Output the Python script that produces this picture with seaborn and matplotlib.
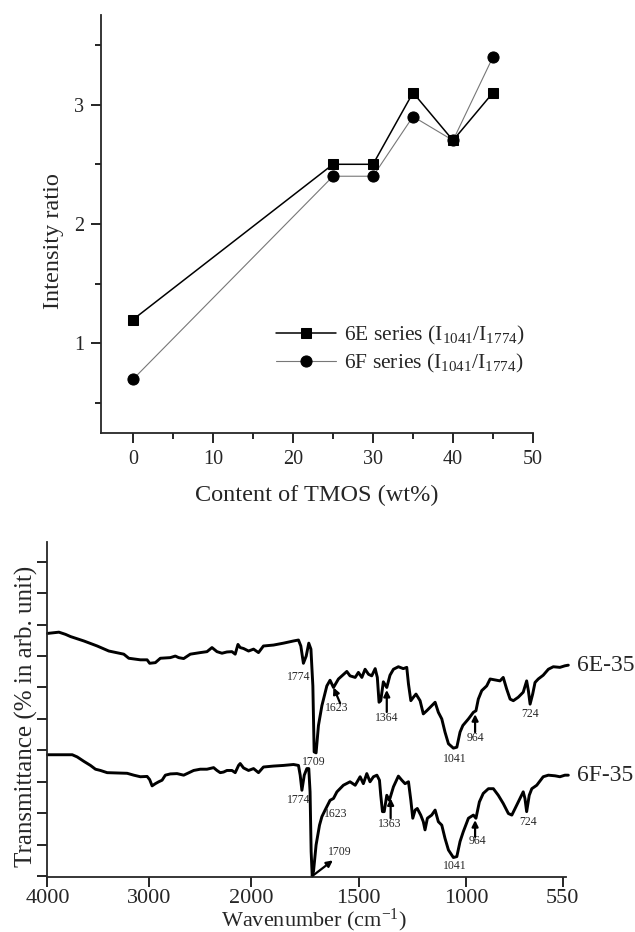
import numpy as np
import matplotlib
matplotlib.use('Agg')
import matplotlib.pyplot as plt
import seaborn as sns

# ---------------- data: top panel ----------------
tmos_wt = [0, 25, 30, 35, 40, 45]
ratio_6E = [1.2, 2.5, 2.5, 3.1, 2.7, 3.1]
ratio_6F = [0.7, 2.4, 2.4, 2.9, 2.7, 3.4]
label_6E = r'6E series (I$_{1041}$/I$_{1774}$)'
label_6F = r'6F series (I$_{1041}$/I$_{1774}$)'

# ---------------- data: FTIR spectra (bottom panel) ----------------
wn_6E = [4000, 3888, 3823, 3774, 3643, 3512, 3398, 3251, 3202, 3088,
         3022, 2997, 2941, 2892, 2794, 2745, 2712, 2663, 2598, 2500,
         2434, 2385, 2336, 2287, 2238, 2189, 2157, 2130, 2108, 2075,
         2026, 1989, 1966, 1943, 1896, 1850, 1803, 1780, 1769, 1757,
         1744, 1732, 1722, 1713, 1707, 1698, 1687, 1671, 1648, 1633,
         1617, 1594, 1555, 1540, 1516, 1501, 1485, 1470, 1454, 1439,
         1423, 1413, 1405, 1397, 1385, 1369, 1354, 1338, 1315, 1292,
         1276, 1268, 1257, 1245, 1233, 1214, 1199, 1183, 1167, 1144,
         1129, 1113, 1098, 1082, 1059, 1043, 1028, 1015, 989, 966,
         954, 943, 927, 904, 888, 865, 842, 827, 811, 795,
         780, 757, 734, 718, 710, 702, 690, 679, 664, 641,
         617, 594, 563, 540, 524]
T_6E = [7.72, 7.76, 7.69, 7.62, 7.48, 7.32, 7.16, 7.06, 6.93, 6.88,
        6.88, 6.77, 6.79, 6.93, 6.95, 7.00, 6.95, 6.92, 7.06, 7.11,
        7.14, 7.27, 7.14, 7.09, 7.13, 7.14, 7.06, 7.37, 7.27, 7.24,
        7.16, 7.22, 7.11, 7.32, 7.35, 7.41, 7.48, 7.51, 7.32, 6.77,
        7.00, 7.41, 7.22, 6.05, 3.95, 3.92, 4.79, 5.42, 6.05, 6.23,
        6.00, 6.27, 6.51, 6.37, 6.32, 6.48, 6.32, 6.58, 6.42, 6.37,
        6.60, 6.32, 5.53, 5.58, 6.18, 6.00, 6.39, 6.58, 6.66, 6.60,
        6.64, 6.11, 5.58, 5.69, 5.79, 5.58, 5.16, 5.26, 5.37, 5.53,
        5.21, 5.00, 4.58, 4.21, 4.07, 4.10, 4.58, 4.79, 5.00, 5.21,
        5.26, 5.63, 5.90, 6.05, 6.27, 6.24, 6.21, 6.32, 5.95, 5.63,
        5.58, 5.69, 5.85, 6.21, 5.90, 5.47, 5.79, 6.16, 6.27, 6.39,
        6.58, 6.66, 6.64, 6.69, 6.71]

wn_6F = [4000, 3872, 3757, 3708, 3643, 3578, 3529, 3480, 3414, 3316,
         3218, 3153, 3088, 3022, 2997, 2973, 2941, 2908, 2875, 2843,
         2794, 2728, 2663, 2630, 2565, 2500, 2434, 2369, 2336, 2304,
         2271, 2238, 2189, 2157, 2124, 2108, 2075, 2026, 1989, 1966,
         1943, 1896, 1850, 1803, 1780, 1772, 1764, 1753, 1741, 1732,
         1726, 1721, 1716, 1710, 1698, 1682, 1671, 1656, 1633, 1617,
         1601, 1571, 1540, 1516, 1493, 1478, 1462, 1447, 1431, 1415,
         1403, 1397, 1389, 1381, 1369, 1357, 1338, 1315, 1299, 1284,
         1268, 1257, 1248, 1237, 1227, 1211, 1199, 1191, 1180, 1160,
         1144, 1129, 1113, 1098, 1082, 1059, 1043, 1028, 1013, 989,
         966, 954, 938, 920, 896, 873, 850, 827, 803, 787,
         764, 734, 726, 718, 706, 694, 671, 641, 617, 586,
         563, 540, 524]
T_6F = [3.86, 3.86, 3.86, 3.79, 3.65, 3.52, 3.40, 3.36, 3.29, 3.28,
        3.27, 3.21, 3.16, 3.17, 3.07, 2.87, 2.94, 3.00, 3.05, 3.21,
        3.25, 3.26, 3.21, 3.26, 3.36, 3.40, 3.40, 3.45, 3.36, 3.29,
        3.31, 3.36, 3.36, 3.29, 3.52, 3.58, 3.44, 3.36, 3.42, 3.29,
        3.47, 3.50, 3.52, 3.55, 3.52, 3.21, 2.73, 3.21, 3.42, 3.42,
        2.68, 0.78, 0.00, 0.15, 0.99, 1.62, 1.89, 2.10, 2.41, 2.47,
        2.68, 2.89, 3.00, 2.89, 3.16, 2.94, 3.26, 3.00, 3.16, 3.21,
        3.05, 2.57, 2.05, 2.05, 2.57, 2.41, 2.84, 3.18, 3.05, 2.94,
        3.00, 2.41, 1.84, 2.10, 2.15, 1.94, 1.73, 1.47, 1.84, 1.94,
        2.10, 1.73, 1.62, 1.20, 0.83, 0.59, 0.62, 1.10, 1.41, 1.84,
        1.94, 1.84, 2.36, 2.63, 2.78, 2.78, 2.57, 2.31, 1.99, 1.94,
        2.26, 2.68, 2.47, 2.05, 2.57, 2.78, 2.89, 3.16, 3.21, 3.19,
        3.16, 3.21, 3.21]

wn_ticks = [4000, 3000, 2000, 1500, 1000, 550]
series_names = ['6E-35', '6F-35']

# ---------------- style ----------------
sns.set_style('ticks')
plt.rcParams['font.family'] = ['Liberation Serif', 'DejaVu Serif']
plt.rcParams['mathtext.fontset'] = 'custom'
plt.rcParams['mathtext.rm'] = 'Liberation Serif'
plt.rcParams['mathtext.it'] = 'Liberation Serif:italic'
plt.rcParams['mathtext.default'] = 'regular'
plt.rcParams['axes.linewidth'] = 1.3

fig = plt.figure(figsize=(6.35, 9.32), dpi=100)

# ================= top panel =================
ax1 = fig.add_axes([0.1591, 0.5354, 0.6803, 0.4485])
sns.lineplot(x=tmos_wt, y=ratio_6E, ax=ax1, color='black', linewidth=1.1,
             marker='s', markersize=7, markeredgecolor='black',
             label=label_6E, zorder=3, estimator=None)
sns.lineplot(x=tmos_wt, y=ratio_6F, ax=ax1, color='#777777', linewidth=0.8,
             marker='o', markersize=8, markerfacecolor='black',
             markeredgecolor='black', label=label_6F, zorder=2, estimator=None)
ax1.set_xlim(-4, 50)
ax1.set_ylim(0.25, 3.75)
ax1.set_xticks([0, 10, 20, 30, 40, 50])
ax1.set_xticks([5, 15, 25, 35, 45], minor=True)
ax1.set_yticks([1, 2, 3])
ax1.set_yticks([0.5, 1.5, 2.5, 3.5], minor=True)
ax1.tick_params(axis='both', which='major', direction='out', length=7,
                width=1.2, labelsize=14.5, pad=5, color='black')
ax1.tick_params(axis='both', which='minor', direction='out', length=4,
                width=1.2, color='black')
sns.despine(ax=ax1)
ax1.set_xlabel('Content of TMOS (wt%)', fontsize=17.5)
ax1.set_ylabel('Intensity ratio', fontsize=17.5)
ax1.xaxis.set_label_coords(0.5, -0.125)
ax1.yaxis.set_label_coords(-0.085, 0.46)
leg = ax1.legend(loc='upper left', bbox_to_anchor=(0.405, 0.26),
                 frameon=False, fontsize=15.5, handlelength=2.8,
                 handletextpad=0.35, labelspacing=0.22, borderpad=0,
                 borderaxespad=0)

# ================= bottom panel =================
ax2 = fig.add_axes([0.0748, 0.0590, 0.8165, 0.3595])
r = 0.474


def fwd(w):
    w = np.asarray(w, dtype=float)
    return np.where(w > 2000, 2000 + r * (w - 2000), w)


def inv(t):
    t = np.asarray(t, dtype=float)
    return np.where(t > 2000, 2000 + (t - 2000) / r, t)


ax2.set_xscale('function', functions=(fwd, inv))
sns.lineplot(x=wn_6E, y=T_6E, ax=ax2, sort=False, estimator=None,
             color='black', linewidth=2.1, clip_on=False, legend=False)
sns.lineplot(x=wn_6F, y=T_6F, ax=ax2, sort=False, estimator=None,
             color='black', linewidth=2.1, clip_on=False, legend=False)
ax2.set_xlim(4000, 535)
ax2.set_ylim(-0.03, 10.63)
ax2.set_xticks(wn_ticks)
ax2.set_xticklabels([str(t) for t in wn_ticks])
ax2.set_yticks(range(0, 11))
ax2.set_yticklabels([])
ax2.tick_params(axis='both', which='major', direction='out', length=7,
                width=1.2, labelsize=16, pad=1.5, color='black')
ax2.tick_params(axis='x', which='minor', length=0)
sns.despine(ax=ax2)
ax2.set_xlabel(r'Wavenumber (cm$^{-1}$)', fontsize=16)
ax2.set_ylabel('Transmittance (% in arb. unit)', fontsize=18)
ax2.xaxis.set_label_coords(0.514, -0.088)
ax2.yaxis.set_label_coords(-0.018, 0.48)

# peak labels
small = 8.5
peak_text = [
    ('1774', 1780, 6.34), ('1709', 1710, 3.63), ('1623', 1601, 5.34),
    ('1364', 1369, 5.03), ('1041', 1051, 3.71), ('964', 958, 4.40),
    ('724', 702, 5.16),
    ('1774', 1780, 2.41), ('1623', 1605, 1.99), ('1363', 1354, 1.65),
    ('1709', 1590, 0.76), ('1041', 1051, 0.31), ('964', 947, 1.12),
    ('724', 713, 1.73),
]
for txt, xw, yt in peak_text:
    ax2.text(xw, yt, txt, fontsize=small, ha='center', va='center')

arrows = [
    ((1617, 6.00), (1586, 5.50)),
    ((1369, 5.92), (1369, 5.22)),
    ((958, 5.15), (958, 4.58)),
    ((1351, 2.47), (1351, 1.84)),
    ((958, 1.78), (958, 1.25)),
    ((1620, 0.50), (1712, 0.02)),
]
for head, tail in arrows:
    ax2.annotate('', xy=head, xytext=tail,
                 arrowprops=dict(arrowstyle='-|>', color='black', lw=1.6,
                                 mutation_scale=9, shrinkA=0, shrinkB=0))

ax2.text(484, 6.71, series_names[0], fontsize=17, ha='left', va='center')
ax2.text(484, 3.21, series_names[1], fontsize=17, ha='left', va='center')

fig.savefig('out.png', dpi=100)
